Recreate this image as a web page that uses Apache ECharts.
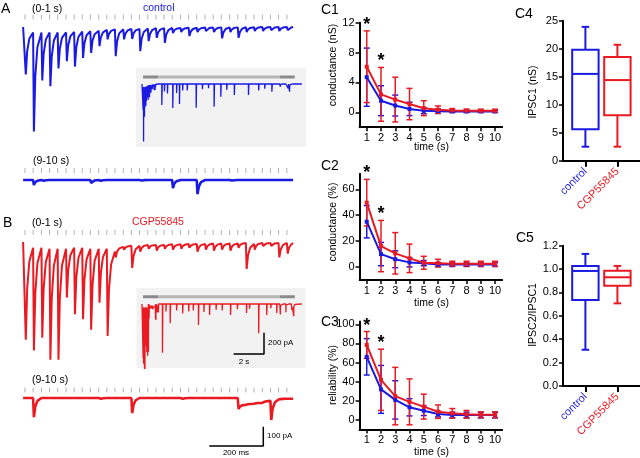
<!DOCTYPE html>
<html><head><meta charset="utf-8">
<script src="https://cdn.jsdelivr.net/npm/echarts@6/dist/echarts.min.js"></script>
<style>html,body{margin:0;padding:0;background:#fff}#c{width:640px;height:458px}</style>
</head><body><div id="c"></div>
<script>
// ================= DATA =================
// stimulus times within each 1 s window (ms)
const stimMs = [0,30,61,91,121,152,182,212,242,273,303,333,364,394,424,455,485,515,545,576,606,636,667,697,727,758,788,818,848,879,909,939,970];
// control, 0-1 s: peak current per stimulus (pA) and level before each stimulus (pA)
const ctlFirstPeak  = [-246,-541,-277,-307,-215,-177,-205,-160,-134,-99,-64,-151,-64,-62,-125,-73,-56,-82,-31,-26,-47,-26,-21,-26,-59,-26,-56,-26,-21,-21,-16,-21,-16];
const ctlFirstLevel = [0,-28,-28,-28,-28,-28,-26,-24,-22,-20,-15,-12,-12,-10,-10,-8,-6,-6,-5,-5,-4,-4,-3,-3,-2,-2,-2,-1,-1,0,0,0,0];
// control, 9-10 s
const ctlLastPeak   = [0,-26,-8,0,0,0,0,0,-15,-8,0,0,0,0,-6,0,0,0,-42,0,0,-73,0,0,0,-6,0,0,0,0,0,0,0];
const ctlLastLevel  = [0,0,0,0,0,0,0,0,0,0,0,0,0,0,0,0,0,0,0,0,0,0,0,0,0,0,0,0,0,0,0,0,0];
// CGP55845, 0-1 s
const cgpFirstPeak  = [-506,-562,-496,-610,-610,-288,-374,-400,-454,-314,-487,-80,-40,-135,-50,-35,-45,-35,-40,-35,-30,-50,-40,-45,-40,-45,-30,-140,-40,-20,-20,-80,-60];
const cgpFirstLevel = [0,-30,-30,-35,-35,-35,-30,-30,-35,-35,-35,-50,-25,-20,-20,-15,-15,-15,-12,-12,-10,-10,-10,-8,-8,-8,-8,-5,-10,-5,-5,-5,-5];
// CGP55845, 9-10 s
const cgpLastPeak   = [0,-99,0,0,0,0,0,0,0,-8,0,0,0,-78,0,0,0,0,0,-8,0,0,0,0,0,0,-57,0,0,0,-114,0,0];
const cgpLastLevel  = [0,0,0,0,0,0,0,0,0,0,0,0,0,0,0,0,0,0,0,0,0,0,0,0,0,0,0,-35,-30,-25,-15,-8,-4];
// insets (whole 10 s train): spontaneous/late events between 1 and 9 s (s, pA)
const ctlInsetT    = [1.23,1.4,1.6,1.95,2.2,2.39,2.6,2.9,3.49,3.9,4.3,4.67,5.11,5.5,6.0,6.93,7.6,8.0,8.47];
const ctlInsetPeak = [-197,-70,-90,-225,-85,-188,-60,-60,-222,-50,-40,-213,-119,-55,-103,-103,-60,-45,-72];
const cgpInsetT    = [0.35,0.84,1.0,1.27,1.5,1.78,2.2,2.6,3.0,3.3,3.64,4.0,4.37,4.8,5.2,5.75,6.2,6.8,7.0,7.6,8.13,8.4,8.79];
const cgpInsetPeak = [-448,-150,-80,-457,-70,-181,-60,-90,-70,-60,-197,-75,-103,-55,-60,-103,-50,-85,-45,-275,-103,-40,-85];

// C1-C3: time (s), mean and SD
const timeS = [1,2,3,4,5,6,7,8,9,10];
const c1CtlMean = [4.7,1.55,0.9,0.45,0.2,0.15,0.12,0.12,0.12,0.12];
const c1CtlSd   = [3.9,2.0,1.4,0.9,0.4,0.3,0.15,0.15,0.15,0.15];
const c1CgpMean = [6.1,2.4,1.7,1.1,0.55,0.35,0.25,0.22,0.2,0.2];
const c1CgpSd   = [4.8,3.6,3.0,2.1,1.0,0.5,0.25,0.2,0.2,0.2];
const c2CtlMean = [35,10,6,3.6,3,2,2,2,2,2];
const c2CtlSd   = [12.5,9,6.5,3.5,2,1.5,1.5,1.5,1.5,1.5];
const c2CgpMean = [49.7,16.2,10.6,6.7,3.3,3,2.5,2.5,2.5,2.5];
const c2CgpSd   = [18,19.8,16,11,5,3,2,2,2,2];
const c3CtlMean = [66,32,21,13.3,9.7,6.3,5.2,5.2,5.2,5.2];
const c3CtlSd   = [19,25,20,9,5,3,3,3,3,3];
const c3CgpMean = [78.4,42,25,19,14,8.7,7,6,5.5,5.5];
const c3CgpSd   = [14,32,30,24,13,7,5,4,3,3];
const sigTimes = [1,2];
const c1Ticks = [0,4,8,12], c2Ticks = [0,20,40,60], c3Ticks = [0,20,40,60,80,100];

// C4-C5 box plots: [min, q1, median, q3, max]
const groupNames = ['control','CGP55845'];
const c4Ctl = [2.5,5.6,15.5,19.8,23.9];
const c4Cgp = [2.5,8.1,14.4,18.5,20.7];
const c5Ctl = [0.31,0.735,0.984,1.027,1.13];
const c5Cgp = [0.707,0.858,0.93,0.986,1.027];
const c4Ticks = [0,5,10,15,20,25];
const c5Ticks = [0,0.2,0.4,0.6,0.8,1.0,1.2];

// scale bars
const mainBarMs = 200, mainBarPA = 100, insetBarS = 2, insetBarPA = 200;

// ================= STYLE / BUILD =================
const BLUE = '#1a1ae2', RED = '#ea1a22', TICKGRAY = '#a0a0a0';
const FONT = '"Liberation Sans", Arial, Helvetica, sans-serif';
const DECAY = [[3,1],[8,0.45],[16,0.15]]; // event shape template (ms, fraction)

function trace(peaks, levels, endMs) {
  const n = stimMs.length, pts = [[-7, levels[0]]];
  for (let k = 0; k < n; k++) {
    const t0 = stimMs[k], t1 = k + 1 < n ? stimMs[k + 1] : endMs;
    const nxt = k + 1 < n ? levels[k + 1] : levels[k];
    const pk = Math.min(peaks[k], levels[k]);
    pts.push([t0, levels[k]]);
    for (const [dt, f] of DECAY) if (t0 + dt < t1) pts.push([t0 + dt, nxt + (pk - nxt) * f]);
  }
  pts.push([endMs, levels[n - 1]]);
  return pts;
}
function insetTrace(firstPts, lastPts, ts, pks) {
  const pts = [[-0.07, 0]];
  firstPts.forEach(([t, v]) => pts.push([t / 1000, v]));
  ts.forEach((t, i) => pts.push([t, 0], [t + 0.005, pks[i]], [t + 0.03, 0]));
  lastPts.forEach(([t, v]) => pts.push([9 + t / 1000, v]));
  pts.push([10.45, 0]);
  pts.sort((a, b) => a[0] - b[0]);
  return pts;
}
const ctlFirst = trace(ctlFirstPeak, ctlFirstLevel, 993);
const ctlLast  = trace(ctlLastPeak, ctlLastLevel, 993);
const cgpFirst = trace(cgpFirstPeak, cgpFirstLevel, 993);
const cgpLast  = trace(cgpLastPeak, cgpLastLevel, 993);
const ctlInset = insetTrace(ctlFirst, ctlLast, ctlInsetT, ctlInsetPeak);
const cgpInset = insetTrace(cgpFirst, cgpLast, cgpInsetT, cgpInsetPeak);

// pixel scales: main traces 5.18 pA/px, 0.27 px/ms; insets 9.39 pA/px, 15.2 px/s
const S = 5.18, SI = 9.39;
function tGrid(left, top, width, height) { return {left, top, width, height, outerBoundsMode: 'none'}; }
const grids = [
  tGrid(23, 12, 270, 128),   // 0 A 0-1 s  (baseline y=27)
  tGrid(23, 160, 270, 40),   // 1 A 9-10 s (baseline y=180)
  tGrid(142, 70, 160, 75),   // 2 A inset  (baseline y=84)
  tGrid(23, 225, 270, 140),  // 3 B 0-1 s  (baseline y=242)
  tGrid(23, 380, 270, 70),   // 4 B 9-10 s (baseline y=398)
  tGrid(142, 288, 160, 80),  // 5 B inset  (baseline y=304)
  tGrid(359.6, 22.7, 142.6, 104.5), // 6 C1
  tGrid(359.6, 173.8, 142.6, 106.2),// 7 C2
  tGrid(359.6, 321.4, 142.6, 108.2),// 8 C3
  tGrid(563, 20.7, 76.8, 140),      // 9 C4
  tGrid(563, 245.7, 76.8, 140.3)    // 10 C5
];
function hiddenX(gi, min, max) { return {gridIndex: gi, type: 'value', min, max, show: false}; }
function hiddenY(gi, y0, top, h, s) { return {gridIndex: gi, type: 'value', max: (y0 - top) * s, min: -(top + h - y0) * s, show: false}; }
const axStyle = {show: true, onZero: false, lineStyle: {color: '#000', width: 2}};
function cX(gi) {
  return {gridIndex: gi, type: 'value', min: 0.5, max: 10.5, axisLine: axStyle,
    axisTick: {show: true, length: 4, customValues: timeS, lineStyle: {color: '#000', width: 1.5}},
    axisLabel: {show: true, customValues: timeS, fontSize: 11, fontFamily: FONT, color: '#000', margin: 5},
    splitLine: {show: false}};
}
function cY(gi, min, max, ticks, fmt) {
  return {gridIndex: gi, type: 'value', min, max, axisLine: axStyle,
    axisTick: {show: true, length: 4, customValues: ticks, lineStyle: {color: '#000', width: 1.5}},
    axisLabel: {show: true, customValues: ticks, fontSize: 11, fontFamily: FONT, color: '#000', margin: 5, formatter: fmt},
    splitLine: {show: false}};
}
function bX(gi) {
  return {gridIndex: gi, type: 'value', min: 0.3, max: 2.7, axisLine: axStyle,
    axisTick: {show: true, length: 6, customValues: [1, 2], lineStyle: {color: '#000', width: 2}},
    axisLabel: {show: true, customValues: [1, 2], rotate: 45, margin: 9, fontSize: 11, fontFamily: FONT,
      formatter: v => groupNames[Math.round(v) - 1], color: v => Math.round(v) === 1 ? BLUE : RED},
    splitLine: {show: false}};
}

const xAxes = [
  hiddenX(0, -7.4, 992.6), hiddenX(1, -7.4, 992.6), hiddenX(2, -0.07, 10.456),
  hiddenX(3, -7.4, 992.6), hiddenX(4, -7.4, 992.6), hiddenX(5, -0.07, 10.456),
  cX(6), cX(7), cX(8), bX(9), bX(10)
];
const yAxes = [
  hiddenY(0, 27, 12, 128, S), hiddenY(1, 180, 160, 40, S), hiddenY(2, 84, 70, 75, SI),
  hiddenY(3, 242, 225, 140, S), hiddenY(4, 398, 380, 70, S), hiddenY(5, 304, 288, 80, SI),
  cY(6, -2, 12, c1Ticks), cY(7, -10, 72, c2Ticks), cY(8, -10, 103, c3Ticks),
  cY(9, 0, 25, c4Ticks), cY(10, 0, 1.2, c5Ticks, v => Number(v).toFixed(1))
];

const series = [];
function lineS(gi, data, color, w, extra) {
  series.push(Object.assign({type: 'line', xAxisIndex: gi, yAxisIndex: gi, data, symbol: 'none', showSymbol: false,
    lineStyle: {color, width: w}, clip: false, animation: false, silent: true}, extra || {}));
}
function stimTicks(gi, yPx, y0, s) {
  const v = (y0 - yPx) * s;
  series.push({type: 'scatter', xAxisIndex: gi, yAxisIndex: gi, data: stimMs.map(t => [t, v]),
    symbol: 'rect', symbolSize: [1, 5], itemStyle: {color: TICKGRAY}, silent: true, animation: false});
}
// traces
lineS(0, ctlFirst, BLUE, 2); stimTicks(0, 17, 27, S);
lineS(1, ctlLast, BLUE, 2.6); stimTicks(1, 170.5, 180, S);
lineS(3, cgpFirst, RED, 2); stimTicks(3, 232.5, 242, S);
lineS(4, cgpLast, RED, 2.6); stimTicks(4, 390, 398, S);
// insets: stimulation bars + traces
function stimBar(gi, yPx, y0) {
  const v = (y0 - yPx) * SI;
  lineS(gi, [[0, v], [1, v]], '#8a8a8a', 3);
  lineS(gi, [[1, v], [9, v]], '#b5b5b5', 3);
  lineS(gi, [[9, v], [9.98, v]], '#8a8a8a', 3);
}
stimBar(2, 77, 84); lineS(2, ctlInset, BLUE, 1.3);
stimBar(5, 296.7, 304); lineS(5, cgpInset, RED, 1.3);
// scale bars
(function () {
  const tx = (263.3 - 25) / 0.27, ty = -(446 - 398) * S;
  lineS(4, [[tx - mainBarMs, ty], [tx, ty], [tx, ty + mainBarPA]], '#000', 1.5);
  const ix = (264 - 143.06) / 15.2, iy = -(354 - 304) * SI;
  lineS(5, [[ix - insetBarS, iy], [ix, iy], [ix, iy + insetBarPA]], '#000', 1.5);
})();

// C1-C3
function errItem(color) {
  return function (params, api) {
    const x = api.value(0), lo = api.coord([x, api.value(1)]), hi = api.coord([x, api.value(2)]), w = 3;
    const st = {stroke: color, lineWidth: 1.5, fill: null};
    return {type: 'group', children: [
      {type: 'line', shape: {x1: lo[0], y1: lo[1], x2: hi[0], y2: hi[1]}, style: st},
      {type: 'line', shape: {x1: lo[0] - w, y1: lo[1], x2: lo[0] + w, y2: lo[1]}, style: st},
      {type: 'line', shape: {x1: hi[0] - w, y1: hi[1], x2: hi[0] + w, y2: hi[1]}, style: st}]};
  };
}
function cPanel(gi, ctlM, ctlS, cgpM, cgpS) {
  const err = (m, s) => timeS.map((t, i) => [t, m[i] - s[i], m[i] + s[i]]);
  const pts = m => timeS.map((t, i) => [t, m[i]]);
  series.push({type: 'custom', xAxisIndex: gi, yAxisIndex: gi, data: err(ctlM, ctlS), encode: {x: 0, y: [1, 2]}, renderItem: errItem(BLUE), silent: true, animation: false});
  lineS(gi, pts(ctlM), BLUE, 2, {symbol: 'rect', symbolSize: 4, showSymbol: true, itemStyle: {color: BLUE}});
  series.push({type: 'custom', xAxisIndex: gi, yAxisIndex: gi, data: err(cgpM, cgpS), encode: {x: 0, y: [1, 2]}, renderItem: errItem(RED), silent: true, animation: false});
  lineS(gi, pts(cgpM), RED, 2, {symbol: 'rect', symbolSize: 4, showSymbol: true, itemStyle: {color: RED}});
  const stars = sigTimes.map(t => { const i = timeS.indexOf(t); return [t, Math.max(ctlM[i] + ctlS[i], cgpM[i] + cgpS[i])]; });
  series.push({type: 'custom', xAxisIndex: gi, yAxisIndex: gi, data: stars, encode: {x: 0, y: 1}, silent: true, animation: false,
    renderItem: (params, api) => {
      const p = api.coord([api.value(0), api.value(1)]);
      return {type: 'text', x: p[0], y: p[1] - 15, style: {text: '*', fill: '#000', font: 'bold 18px ' + FONT, align: 'center', verticalAlign: 'top', textAlign: 'center', textVerticalAlign: 'top'}};
    }});
}
cPanel(6, c1CtlMean, c1CtlSd, c1CgpMean, c1CgpSd);
cPanel(7, c2CtlMean, c2CtlSd, c2CgpMean, c2CgpSd);
cPanel(8, c3CtlMean, c3CtlSd, c3CgpMean, c3CgpSd);

// C4-C5 box plots
function boxItem(color) {
  return function (params, api) {
    const x = api.value(0), v = [1, 2, 3, 4, 5].map(i => api.value(i));
    const c = y => api.coord([x, y]);
    const pMin = c(v[0]), pQ1 = c(v[1]), pMed = c(v[2]), pQ3 = c(v[3]), pMax = c(v[4]);
    const cx = pMed[0], hw = 13.2, cw = 3.8;
    const st = {stroke: color, lineWidth: 2, fill: null};
    const L = (x1, y1, x2, y2) => ({type: 'line', shape: {x1, y1, x2, y2}, style: st});
    return {type: 'group', children: [
      {type: 'rect', shape: {x: cx - hw, y: pQ3[1], width: 2 * hw, height: pQ1[1] - pQ3[1]}, style: st},
      L(cx - hw, pMed[1], cx + hw, pMed[1]),
      L(cx, pQ3[1], cx, pMax[1]), L(cx, pQ1[1], cx, pMin[1]),
      L(cx - cw, pMax[1], cx + cw, pMax[1]), L(cx - cw, pMin[1], cx + cw, pMin[1])]};
  };
}
function boxS(gi, pos, vals, color) {
  series.push({type: 'custom', xAxisIndex: gi, yAxisIndex: gi, data: [[pos].concat(vals)], encode: {x: 0, y: [1, 2, 3, 4, 5]},
    renderItem: boxItem(color), silent: true, animation: false});
}
boxS(9, 1, c4Ctl, BLUE); boxS(9, 2, c4Cgp, RED);
boxS(10, 1, c5Ctl, BLUE); boxS(10, 2, c5Cgp, RED);

// ================= TEXT / DECORATION =================
function txt(text, x, y, size, opts) {
  opts = opts || {};
  return {type: 'text', x, y, rotation: opts.rot || 0, z: 100, silent: true,
    style: {text, fill: opts.color || '#000', font: (opts.weight ? opts.weight + ' ' : '') + size + 'px ' + FONT,
      align: opts.align || 'left', verticalAlign: opts.va || 'top', textAlign: opts.align || 'left', textVerticalAlign: opts.va || 'top'}};
}
const graphics = [
  {type: 'rect', shape: {x: 136, y: 68, width: 170, height: 79}, style: {fill: '#f2f2f2'}, z: -10, silent: true},
  {type: 'rect', shape: {x: 136.5, y: 288, width: 169, height: 80}, style: {fill: '#f2f2f2'}, z: -10, silent: true},
  txt('A', 1, 2, 14),
  txt('(0-1 s)', 32, 4, 10.5),
  txt('control', 143, 3, 10.5, {color: BLUE}),
  txt('(9-10 s)', 33, 156, 10.5),
  txt('B', 3, 216, 14),
  txt('(0-1 s)', 32, 218, 10.5),
  txt('CGP55845', 132, 217, 10.5, {color: RED}),
  txt('(9-10 s)', 32, 375, 10.5),
  txt('200 pA', 268, 339, 8),
  txt('2 s', 244, 358, 8, {align: 'center'}),
  txt('100 pA', 267, 432, 8),
  txt('200 ms', 236, 449, 8, {align: 'center'}),
  txt('C1', 321, 3, 14), txt('C2', 321, 159, 14), txt('C3', 321, 315, 14),
  txt('C4', 515, 7, 14), txt('C5', 516, 231, 14),
  txt('conductance (nS)', 333.5, 65, 10.5, {rot: Math.PI / 2, align: 'center', va: 'middle'}),
  txt('conductance (%)', 333.5, 222, 10.5, {rot: Math.PI / 2, align: 'center', va: 'middle'}),
  txt('reliability (%)', 333.5, 375, 10.5, {rot: Math.PI / 2, align: 'center', va: 'middle'}),
  txt('IPSC1 (nS)', 533.5, 92, 10.5, {rot: Math.PI / 2, align: 'center', va: 'middle'}),
  txt('IPSC2/IPSC1', 533.5, 315, 10.5, {rot: Math.PI / 2, align: 'center', va: 'middle'}),
  txt('time (s)', 431.5, 147, 10.5, {align: 'center', va: 'middle'}),
  txt('time (s)', 431.5, 303, 10.5, {align: 'center', va: 'middle'}),
  txt('time (s)', 431.5, 452, 10.5, {align: 'center', va: 'middle'})
];

const chart = echarts.init(document.getElementById('c'), null, {renderer: 'canvas', width: 640, height: 458});
chart.setOption({
  animation: false,
  backgroundColor: '#fff',
  textStyle: {fontFamily: FONT},
  grid: grids, xAxis: xAxes, yAxis: yAxes, series,
  graphic: {elements: graphics}
});
</script></body></html>
